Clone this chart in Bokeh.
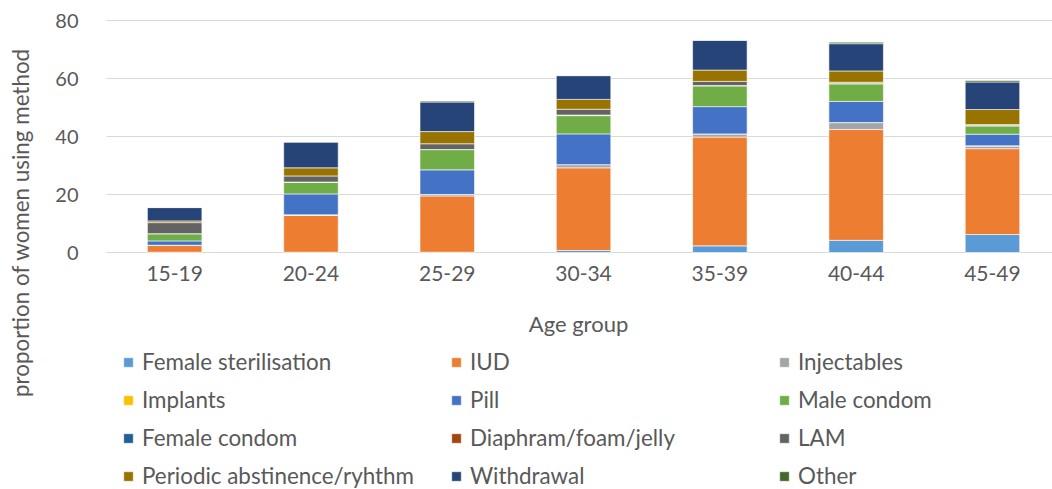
import math
from bokeh.plotting import figure
from bokeh.models import (ColumnDataSource, Range1d, FixedTicker, Legend, LegendItem, Label)
from bokeh.embed import file_html
from bokeh.resources import INLINE

age_groups = ["15-19", "20-24", "25-29", "30-34", "35-39", "40-44", "45-49"]
methods = ["Female sterilisation", "IUD", "Injectables", "Implants", "Pill", "Male condom",
           "Female condom", "Diaphram/foam/jelly", "LAM", "Periodic abstinence/ryhthm",
           "Withdrawal", "Other"]
female_sterilisation = [0.1, 0.1, 0.1, 0.7, 2.3, 4.2, 6.2]
iud = [2.3, 12.7, 19.4, 28.5, 37.5, 38.2, 29.6]
injectables = [0.1, 0.2, 0.5, 1.1, 1.1, 2.4, 0.9]
implants = [0.0, 0.0, 0.0, 0.0, 0.0, 0.0, 0.1]
pill = [1.5, 7.2, 8.5, 10.6, 9.4, 7.3, 4.0]
male_condom = [2.5, 4.1, 7.0, 6.3, 7.2, 6.1, 2.9]
female_condom = [0.0, 0.0, 0.0, 0.1, 0.0, 0.0, 0.0]
diaphram = [0.0, 0.0, 0.0, 0.1, 0.1, 0.2, 0.1]
lam = [3.8, 2.1, 2.0, 2.0, 1.4, 0.3, 0.3]
periodic = [0.6, 2.8, 4.2, 3.4, 3.9, 3.9, 5.2]
withdrawal = [4.6, 8.9, 10.2, 8.2, 10.3, 9.4, 9.5]
other = [0.0, 0.0, 0.3, 0.0, 0.0, 0.5, 0.5]
colors = ["#5B9BD5", "#ED7D31", "#A5A5A5", "#FFC000", "#4472C4", "#70AD47",
          "#255E91", "#9E480E", "#636363", "#997300", "#264478", "#43682B"]
y_ticks = [0, 20, 40, 60, 80]

series = [female_sterilisation, iud, injectables, implants, pill, male_condom,
          female_condom, diaphram, lam, periodic, withdrawal, other]
keys = ["s%d" % i for i in range(len(methods))]
data = {"x": list(range(len(age_groups)))}
for k, s in zip(keys, series):
    data[k] = s
source = ColumnDataSource(data)

FONT = "Lato"
TXT = "#595959"

# canvas == frame; chart area: x from 106px, y=0 at 252px, y=80 at 20px
W, H = 1052, 489
px_per_cat = 136.3
px_per_unit = 232 / 80
x0 = -0.5 - 106 / px_per_cat
x1 = -0.5 + (W - 106) / px_per_cat
y1 = 80 + 20 / px_per_unit
y0 = -(H - 252) / px_per_unit

p = figure(width=W, height=H, output_backend="svg", toolbar_location=None,
           x_range=Range1d(x0, x1), y_range=Range1d(y0, y1), title=None,
           min_border_left=0, min_border_right=0, min_border_top=0, min_border_bottom=0)
p.outline_line_color = None

renderers = p.vbar_stack(keys, x="x", width=0.4, color=colors, source=source,
                         line_color="white", line_width=0.6)

p.xgrid.grid_line_color = None
p.ygrid.grid_line_color = "#D9D9D9"
p.ygrid.grid_line_width = 1.2
g = p.ygrid[0]
if "cross_bounds" in g.properties():
    g.cross_bounds = (-0.5, x1)
p.yaxis.ticker = FixedTicker(ticks=y_ticks)
p.xaxis.ticker = FixedTicker(ticks=list(range(len(age_groups))))
p.xaxis.major_label_overrides = {i: gname for i, gname in enumerate(age_groups)}
p.xaxis.fixed_location = 0
p.yaxis.fixed_location = -0.5

for ax in (p.xaxis, p.yaxis):
    ax.major_tick_line_color = None
    ax.minor_tick_line_color = None
    ax.axis_line_color = None
    ax.major_label_text_font = FONT
    ax.major_label_text_color = TXT
p.xaxis.major_label_text_font_size = "21px"
p.yaxis.major_label_text_font_size = "20px"
p.yaxis.major_label_standoff = 22
p.xaxis.major_label_standoff = 7

xlab = Label(x=578, y=H - 323, x_units="screen", y_units="screen", text="Age group",
             text_align="center", text_baseline="middle",
             text_font=FONT, text_font_size="22px", text_color=TXT)
ylab = Label(x=20, y=H - 222, x_units="screen", y_units="screen",
             text="proportion of women using method", angle=math.pi / 2,
             text_align="center", text_baseline="middle",
             text_font=FONT, text_font_size="22.4px", text_color=TXT)
p.add_layout(xlab)
p.add_layout(ylab)

order = [0, 3, 6, 9, 1, 4, 7, 10, 2, 5, 8, 11]
items = [LegendItem(label=methods[i], renderers=[renderers[i]]) for i in order]
lg = Legend(items=items, location=(122, 0), orientation="vertical", ncols=3,
            padding=0, margin=0, border_line_color=None, background_fill_alpha=0,
            glyph_width=12, glyph_height=12, label_standoff=8,
            label_height=22, label_width=297, spacing=11,
            label_text_font=FONT, label_text_font_size="22.4px", label_text_color=TXT)
p.add_layout(lg, "center")

open("out.html", "w").write(file_html(p, INLINE))
